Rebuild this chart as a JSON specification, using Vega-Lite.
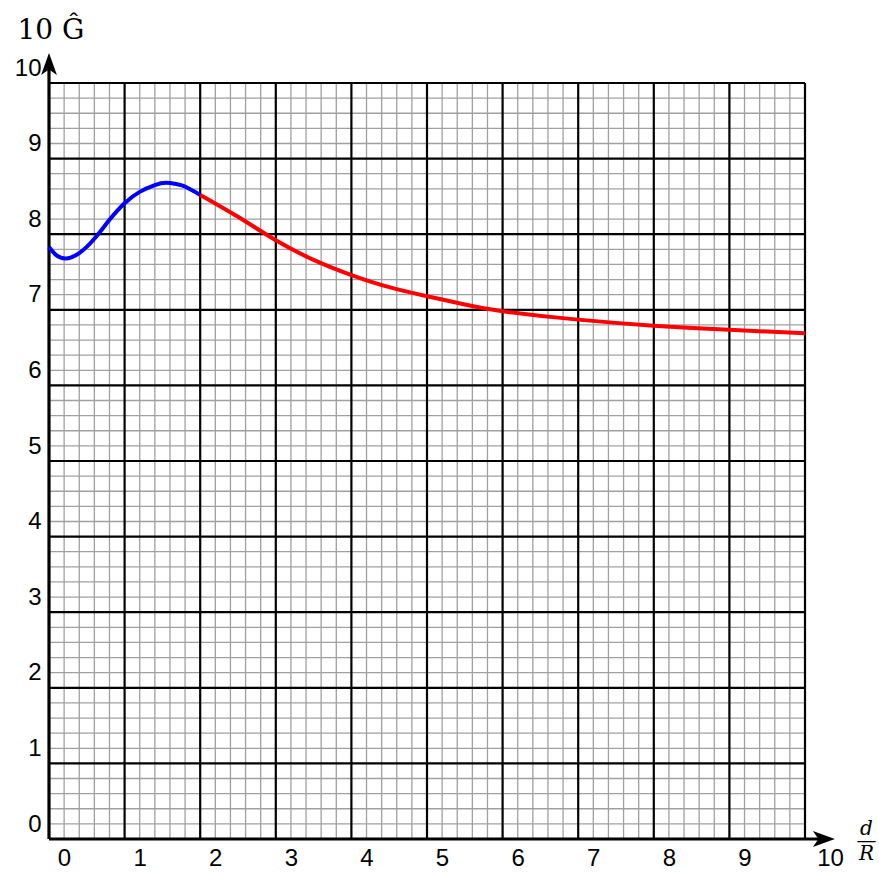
{
  "$schema": "https://vega.github.io/schema/vega-lite/v6.json",
  "width": 756,
  "height": 756,
  "autosize": {"type": "none"},
  "padding": {"left": 49, "top": 83, "right": 74, "bottom": 34},
  "background": "white",
  "config": {"view": {"stroke": null}},
  "datasets": {
    "minor": [
      {"v": 0.2}, {"v": 0.4}, {"v": 0.6}, {"v": 0.8},
      {"v": 1.2}, {"v": 1.4}, {"v": 1.6}, {"v": 1.8},
      {"v": 2.2}, {"v": 2.4}, {"v": 2.6}, {"v": 2.8},
      {"v": 3.2}, {"v": 3.4}, {"v": 3.6}, {"v": 3.8},
      {"v": 4.2}, {"v": 4.4}, {"v": 4.6}, {"v": 4.8},
      {"v": 5.2}, {"v": 5.4}, {"v": 5.6}, {"v": 5.8},
      {"v": 6.2}, {"v": 6.4}, {"v": 6.6}, {"v": 6.8},
      {"v": 7.2}, {"v": 7.4}, {"v": 7.6}, {"v": 7.8},
      {"v": 8.2}, {"v": 8.4}, {"v": 8.6}, {"v": 8.8},
      {"v": 9.2}, {"v": 9.4}, {"v": 9.6}, {"v": 9.8}
    ],
    "major": [
      {"v": 1}, {"v": 2}, {"v": 3}, {"v": 4}, {"v": 5},
      {"v": 6}, {"v": 7}, {"v": 8}, {"v": 9}, {"v": 10}
    ],
    "axes": [
      {"dir": "x", "from": 0, "to": 10.3},
      {"dir": "y", "from": 0, "to": 10.3}
    ],
    "arrows": [
      {"dir": "x", "px": 10.25, "py": 0, "angle": 0},
      {"dir": "y", "px": 0, "py": 10.25, "angle": -90}
    ],
    "curve": [
      {"d": 0.0, "g": 7.83, "part": "blue"},
      {"d": 0.1, "g": 7.72, "part": "blue"},
      {"d": 0.23, "g": 7.68, "part": "blue"},
      {"d": 0.4, "g": 7.75, "part": "blue"},
      {"d": 0.6, "g": 7.94, "part": "blue"},
      {"d": 0.8, "g": 8.19, "part": "blue"},
      {"d": 1.0, "g": 8.41, "part": "blue"},
      {"d": 1.2, "g": 8.56, "part": "blue"},
      {"d": 1.4, "g": 8.65, "part": "blue"},
      {"d": 1.55, "g": 8.68, "part": "blue"},
      {"d": 1.7, "g": 8.66, "part": "blue"},
      {"d": 1.8, "g": 8.63, "part": "blue"},
      {"d": 2.0, "g": 8.52, "part": "blue"},
      {"d": 2.0, "g": 8.52, "part": "red"},
      {"d": 2.5, "g": 8.23, "part": "red"},
      {"d": 3.0, "g": 7.92, "part": "red"},
      {"d": 3.5, "g": 7.66, "part": "red"},
      {"d": 4.0, "g": 7.46, "part": "red"},
      {"d": 4.5, "g": 7.30, "part": "red"},
      {"d": 5.0, "g": 7.18, "part": "red"},
      {"d": 5.5, "g": 7.07, "part": "red"},
      {"d": 6.0, "g": 6.98, "part": "red"},
      {"d": 7.0, "g": 6.87, "part": "red"},
      {"d": 8.0, "g": 6.79, "part": "red"},
      {"d": 9.0, "g": 6.735, "part": "red"},
      {"d": 10.0, "g": 6.69, "part": "red"}
    ]
  },
  "layer": [
    {
      "data": {"name": "minor"},
      "mark": {"type": "rule", "color": "#a0a0a0", "strokeWidth": 1.3},
      "encoding": {"x": {"field": "v", "type": "quantitative"}}
    },
    {
      "data": {"name": "minor"},
      "mark": {"type": "rule", "color": "#a0a0a0", "strokeWidth": 1.3},
      "encoding": {"y": {"field": "v", "type": "quantitative"}}
    },
    {
      "data": {"name": "major"},
      "mark": {"type": "rule", "color": "black", "strokeWidth": 2.2},
      "encoding": {"x": {"field": "v", "type": "quantitative"}}
    },
    {
      "data": {"name": "major"},
      "mark": {"type": "rule", "color": "black", "strokeWidth": 2.2},
      "encoding": {"y": {"field": "v", "type": "quantitative"}}
    },
    {
      "data": {"name": "axes"},
      "transform": [{"filter": "datum.dir === 'x'"}],
      "mark": {"type": "rule", "color": "black", "strokeWidth": 3.2},
      "encoding": {
        "x": {"field": "from", "type": "quantitative"},
        "x2": {"field": "to"},
        "y": {"datum": 0, "type": "quantitative"}
      }
    },
    {
      "data": {"name": "axes"},
      "transform": [{"filter": "datum.dir === 'y'"}],
      "mark": {"type": "rule", "color": "black", "strokeWidth": 3.2},
      "encoding": {
        "y": {"field": "from", "type": "quantitative"},
        "y2": {"field": "to"},
        "x": {"datum": 0, "type": "quantitative"}
      }
    },
    {
      "data": {"name": "arrows"},
      "mark": {
        "type": "point",
        "filled": true,
        "color": "black",
        "opacity": 1,
        "size": 484,
        "shape": "M1,0 L-1,-0.72 L-0.5,0 L-1,0.72 Z"
      },
      "encoding": {
        "x": {"field": "px", "type": "quantitative"},
        "y": {"field": "py", "type": "quantitative"},
        "angle": {"field": "angle", "type": "quantitative", "scale": null}
      }
    },
    {
      "data": {"name": "curve"},
      "mark": {"type": "line", "strokeWidth": 4, "interpolate": "natural", "strokeCap": "butt"},
      "encoding": {
        "x": {
          "field": "d",
          "type": "quantitative",
          "scale": {"domain": [0, 10], "nice": false, "zero": false},
          "axis": {
            "values": [0, 1, 2, 3, 4, 5, 6, 7, 8, 9, 10],
            "format": "d",
            "domain": false,
            "ticks": false,
            "grid": false,
            "labelFont": "Liberation Sans",
            "labelFontSize": 24,
            "labelColor": "black",
            "labelPadding": 7,
            "labelOffset": {"condition": {"test": "datum.value === 10", "value": 25}, "value": 15},
            "labelFlush": false,
            "labelOverlap": false,
            "title": ["d", "—", "R"],
            "titleFont": "DejaVu Serif",
            "titleFontStyle": "italic",
            "titleFontWeight": "normal",
            "titleFontSize": 20,
            "titleColor": "black",
            "titleAlign": "center",
            "titleBaseline": "alphabetic",
            "titleLineHeight": 12.5,
            "titleX": 817,
            "titleY": -5
          }
        },
        "y": {
          "field": "g",
          "type": "quantitative",
          "scale": {"domain": [0, 10], "nice": false, "zero": false},
          "axis": {
            "values": [0, 1, 2, 3, 4, 5, 6, 7, 8, 9, 10],
            "format": "d",
            "domain": false,
            "ticks": false,
            "grid": false,
            "labelFont": "Liberation Sans",
            "labelFontSize": 24,
            "labelColor": "black",
            "labelPadding": 8,
            "labelOffset": -15,
            "labelFlush": false,
            "labelOverlap": false,
            "labelAlign": "right",
            "labelBaseline": "middle",
            "title": "10 Ĝ",
            "titleFont": "DejaVu Serif",
            "titleFontWeight": "normal",
            "titleFontSize": 28,
            "titleColor": "black",
            "titleAngle": 0,
            "titleAlign": "left",
            "titleBaseline": "alphabetic",
            "titleX": -32,
            "titleY": -45
          }
        },
        "color": {
          "field": "part",
          "type": "nominal",
          "scale": {"domain": ["blue", "red"], "range": ["#0000ff", "#ff0000"]},
          "legend": null
        }
      }
    }
  ]
}
